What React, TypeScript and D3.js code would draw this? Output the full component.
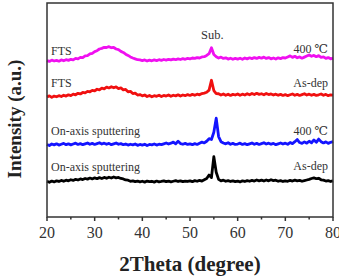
import React from 'react';
import * as d3 from 'd3';

// 2Theta grid, 20-80 deg in 0.5 deg steps
const twoTheta = d3.range(20, 80.001, 0.5);

// XRD scans (relative intensity, a.u.)
const onAxisAsDep = [
  0.3, -0.2, 0.4, 0.0, 0.5, 0.2, 0.7, 0.3, 0.8, 0.5, 1.0, 0.7, 1.2, 0.9, 1.4, 1.1,
  1.6, 1.3, 1.8, 1.4, 1.9, 1.5, 2.0, 1.6, 2.1, 1.7, 2.2, 1.8, 2.3, 1.9, 2.1, 1.6, 1.4, 0.9, 0.8, 0.3, 0.5, 0.1, 0.4, 0.0,
  0.3, -0.1, 0.4, 0.1, 0.3, -0.1, 0.4, 0.0, 0.2, 0.5, 0.1, 0.4, 0.0, 0.3, 0.6, 0.2, 0.5, 0.1, 0.4, 0.2,
  0.5, 0.1, 0.6, 0.3, 0.7, 0.4, 1.0, 1.6, 3.2, 2.0, 11.8, 4.5, 1.2, 0.5, 0.8, 0.3, 0.6, 0.2, 0.5, 0.1,
  0.4, 0.0, 0.5, 0.2, 0.6, 0.3, 0.7, 0.4, 0.9, 0.5, 0.8, 0.4, 0.9, 0.5, 1.0, 0.6, 0.8, 0.3, 0.6, 0.2,
  0.5, 0.3, 0.7, 0.4, 0.8, 0.5, 0.7, 0.3, 0.6, 0.9, 1.2, 1.6, 1.9, 1.5, 1.7, 1.0, 0.8, 0.4, 0.6, 0.2, 0.5,
];
const onAxis400 = [
  0.3, -0.2, 0.5, 0.1, 0.6, 0.0, 0.4, 0.8, 0.2, 0.6, 0.1, 0.5, 0.9, 0.3, 0.7, 0.2,
  0.6, 1.0, 0.4, 0.8, 0.3, 0.7, 1.1, 0.5, 0.9, 0.4, 0.8, 0.2, 0.6, 1.0, 0.4, 0.7, 0.2, 0.5, 0.0, 0.4, 0.1, 0.5, -0.1, 0.3,
  0.0, 0.4, -0.2, 0.3, 0.1, 0.5, 0.0, 0.4, 0.2, 0.6, 1.0, 0.5, 0.9, 1.4, 0.6, 1.8, 0.7, 0.4, 0.8, 0.3,
  0.6, 0.2, 0.7, 0.3, 0.9, 1.4, 1.0, 1.8, 3.0, 2.6, 6.0, 12.6, 4.0, 1.6, 1.0, 0.6, 1.1, 0.4, 0.8, 0.3,
  0.5, 0.9, 0.3, 0.7, 0.2, 0.6, 1.0, 0.4, 0.8, 0.3, 0.7, 1.1, 0.5, 0.9, 0.4, 0.8, 0.2, 0.6, 1.0, 0.5,
  0.9, 0.4, 1.2, 0.7, 1.6, 2.6, 1.2, 0.8, 1.5, 0.9, 1.8, 1.1, 2.4, 1.3, 2.8, 1.6, 1.0, 1.5, 0.8, 1.3, 1.6,
];
const ftsAsDep = [
  0.0, 0.5, -0.2, 0.4, 0.1, 0.6, 0.2, 0.8, 0.4, 1.0, 0.6, 1.3, 1.0, 1.7, 1.4, 2.1,
  1.9, 2.6, 2.4, 3.1, 2.8, 3.6, 3.3, 4.1, 3.8, 4.6, 4.2, 4.8, 4.3, 4.7, 3.9, 4.2, 3.3, 3.5, 2.4, 2.6, 1.6, 1.8, 0.9, 1.1,
  0.5, 0.9, 0.2, 0.7, 0.1, 0.6, 0.3, 0.8, 0.2, 0.7, 0.4, 0.9, 0.3, 0.8, 0.5, 1.0, 0.4, 0.9, 0.6, 1.1,
  0.7, 1.2, 0.8, 1.3, 1.0, 1.6, 1.8, 2.2, 3.2, 7.8, 3.0, 1.6, 1.5, 0.9, 1.4, 0.8, 1.3, 0.7, 1.2, 0.9,
  1.4, 0.8, 1.3, 0.9, 1.5, 1.0, 1.6, 1.1, 1.7, 1.2, 1.5, 1.0, 1.6, 1.1, 1.4, 0.9, 1.3, 0.8, 1.2, 0.7,
  1.1, 0.6, 1.0, 1.4, 0.8, 1.2, 0.7, 1.1, 1.5, 0.9, 1.3, 0.8, 1.2, 0.7, 1.0, 1.4, 0.8, 1.2, 0.6, 1.0, 0.9,
];
const fts400 = [
  0.2, -0.2, 0.4, 0.0, 0.3, -0.1, 0.5, 0.1, 0.6, 0.3, 0.8, 0.5, 1.2, 1.0, 1.7, 1.6,
  2.4, 2.5, 3.3, 3.6, 4.4, 4.8, 5.6, 5.9, 6.4, 6.3, 6.7, 6.2, 6.3, 5.6, 5.3, 4.5, 4.0, 3.2, 2.6, 1.9, 1.4, 1.0, 0.6, 0.5,
  0.2, 0.5, 0.0, 0.4, 0.1, 0.5, 0.2, 0.6, 0.3, 0.7, 0.4, 0.8, 0.5, 0.9, 0.6, 1.0, 0.7, 1.1, 0.8, 1.2,
  1.0, 1.4, 1.2, 1.6, 1.4, 1.9, 2.0, 2.6, 3.4, 6.2, 3.0, 2.0, 1.4, 1.8, 1.2, 1.5, 0.9, 1.3, 0.8, 1.2,
  0.9, 1.3, 0.8, 1.4, 1.0, 1.5, 1.1, 1.6, 1.2, 1.7, 1.3, 1.8, 1.2, 1.6, 1.0, 1.4, 0.9, 1.5, 1.1, 1.6,
  1.4, 1.9, 2.4, 1.7, 2.2, 1.5, 1.9, 1.3, 1.8, 2.3, 2.8, 2.2, 2.6, 2.0, 2.5, 1.7, 1.9, 1.2, 1.6, 1.0, 1.3,
];

const seriesValues = [onAxisAsDep, onAxis400, ftsAsDep, fts400];
const seriesOffsets = [16.4, 33.6, 56.1, 72.9];
const seriesColors = ['#000000', '#1414ff', '#f01010', '#f010f0'];
const leftLabels = ['On-axis sputtering', 'On-axis sputtering', 'FTS', 'FTS'];
const rightLabels = ['As-dep', '400 \u2103', 'As-dep', '400 \u2103'];

const xTicks = [20, 30, 40, 50, 60, 70, 80];
const xMinorTicks = [25, 35, 45, 55, 65, 75];

const SERIF = "'Liberation Serif', 'DejaVu Serif', serif";

const App = () => {
  const width = 339, height = 277;
  const margin = { top: 3, right: 5, bottom: 60, left: 47 };

  const x = d3.scaleLinear().domain([20, 80]).range([margin.left, width - margin.right - 1]);
  const y = d3.scaleLinear().domain([0, 100]).range([height - margin.bottom, margin.top]);

  const line = d3.line<[number, number]>()
    .x(d => x(d[0]))
    .y(d => y(d[1]));

  const plotBottom = y(0);
  const textColor = '#333';
  const font = { fontFamily: SERIF };

  // gap (px) between each trace and the baseline of its labels
  const leftGap = [11, 10, 10, 6];
  const rightGap = [12, 10, 10, 8];

  return (
    <svg width={width} height={height} style={{ position: 'absolute', left: 0, top: 0 }}>
      <rect x={0} y={0} width={width} height={height} fill="#fff" />

      {/* traces */}
      {seriesValues.map((vals, i) => (
        <path
          key={i}
          d={line(vals.map((v, j) => [twoTheta[j], v + seriesOffsets[i]]) as [number, number][]) ?? ''}
          fill="none"
          stroke={seriesColors[i]}
          strokeWidth={2.8}
          strokeLinejoin="round"
        />
      ))}

      {/* sample labels */}
      {leftLabels.map((t, i) => (
        <text key={'l' + i} x={51} y={y(seriesOffsets[i]) - leftGap[i]} fontSize={12} fill={textColor} style={font}>{t}</text>
      ))}
      {rightLabels.map((t, i) => (
        <text key={'r' + i} x={328} y={y(seriesOffsets[i]) - rightGap[i]} fontSize={12} fill={textColor} textAnchor="end" style={font}>{t}</text>
      ))}
      <text x={x(54.7)} y={39} fontSize={12.5} fill={textColor} textAnchor="middle" style={font}>Sub.</text>

      {/* frame */}
      <rect
        x={margin.left}
        y={margin.top}
        width={x(80) - margin.left}
        height={plotBottom - margin.top}
        fill="none"
        stroke="#333"
        strokeWidth={1.5}
      />

      {/* x axis ticks */}
      {xTicks.map(t => (
        <g key={t}>
          <line x1={x(t)} x2={x(t)} y1={plotBottom} y2={plotBottom + 4} stroke="#333" strokeWidth={1.5} />
          <text x={x(t)} y={238} fontSize={16} fill={textColor} textAnchor="middle" style={font}>{t}</text>
        </g>
      ))}
      {xMinorTicks.map(t => (
        <line key={t} x1={x(t)} x2={x(t)} y1={plotBottom} y2={plotBottom + 2.5} stroke="#333" strokeWidth={1.5} />
      ))}

      {/* axis titles */}
      <text x={190} y={271} fontSize={21} fontWeight="bold" fill="#222" textAnchor="middle" style={font}>2Theta (degree)</text>
      <text
        transform="translate(21,119) rotate(-90)"
        fontSize={19}
        fontWeight="bold"
        fill="#222"
        textAnchor="middle"
        style={font}
      >Intensity (a.u.)</text>
    </svg>
  );
};

export default App;
